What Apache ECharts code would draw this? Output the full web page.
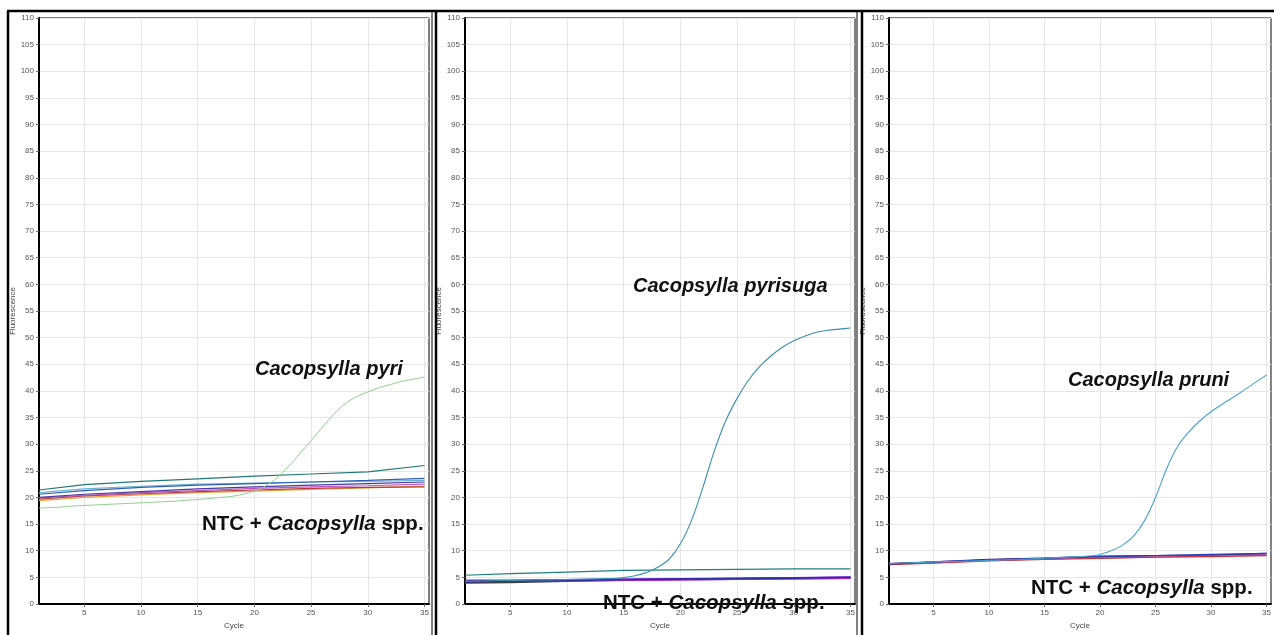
<!DOCTYPE html>
<html><head><meta charset="utf-8">
<script src="https://cdn.jsdelivr.net/npm/echarts@6/dist/echarts.min.js"></script>
<style>html,body{margin:0;padding:0;background:#fff}#c{width:1274px;height:635px}</style>
</head><body><div id="c"></div>
<script>
// ---------- data ----------
var cycles = [1,2,3,4,5,6,7,8,9,10,11,12,13,14,15,16,17,18,19,20,21,22,23,24,25,26,27,28,29,30,31,32,33,34,35];
var baseCycles = [1,5,10,15,20,25,30,35];
var xTicks = [5,10,15,20,25,30,35];

// Panel 1: Cacopsylla pyri
var p1Pyri = [18.0,18.1,18.2,18.4,18.5,18.6,18.7,18.8,18.9,19.0,19.1,19.2,19.3,19.5,19.6,19.8,20.0,20.2,20.6,21.2,22.2,23.7,25.8,28.2,30.7,33.2,35.6,37.6,38.9,39.8,40.6,41.2,41.8,42.2,42.6];
var p1Teal    = [21.4,22.4,23.0,23.5,24.0,24.4,24.8,26.0];
var p1Blue    = [20.6,21.3,21.9,22.3,22.6,22.9,23.2,23.6];
var p1Cyan    = [20.9,21.6,22.1,22.5,22.7,22.9,23.0,23.2];
var p1Purple  = [20.0,20.6,21.1,21.6,22.0,22.3,22.6,22.9];
var p1Magenta = [19.9,20.4,20.9,21.3,21.7,22.0,22.2,22.5];
var p1Red     = [19.7,20.3,20.7,21.1,21.4,21.7,21.9,22.0];
var p1Orange  = [19.4,20.0,20.5,20.9,21.2,21.5,21.8,22.1];

// Panel 2: Cacopsylla pyrisuga
var p2Pyrisuga = [4.3,4.3,4.35,4.4,4.4,4.45,4.5,4.5,4.55,4.6,4.65,4.7,4.75,4.8,4.95,5.3,5.9,6.9,8.4,11.3,15.8,22.0,28.8,34.4,38.6,42.0,44.6,46.6,48.2,49.4,50.3,51.0,51.4,51.6,51.8];
var p2Teal    = [5.4,5.7,6.0,6.3,6.4,6.5,6.6,6.6];
var p2Dark    = [4.0,4.1,4.3,4.5,4.6,4.7,4.8,4.9];
var p2Magenta = [4.3,4.3,4.4,4.5,4.6,4.7,4.8,4.9];
var p2Purple  = [4.4,4.4,4.5,4.6,4.7,4.8,4.9,5.0];
var p2Blue    = [4.2,4.3,4.4,4.6,4.7,4.8,4.9,5.0];

// Panel 3: Cacopsylla pruni
var p3Pruni = [7.6,7.7,7.75,7.8,7.9,7.95,8.0,8.05,8.1,8.2,8.25,8.3,8.4,8.5,8.6,8.7,8.8,8.9,9.0,9.3,10.0,11.0,12.7,15.6,20.0,25.4,29.6,32.3,34.4,36.1,37.5,38.8,40.2,41.6,43.0];
var p3Blue   = [7.5,7.9,8.3,8.6,8.9,9.1,9.3,9.5];
var p3Navy   = [7.6,7.9,8.4,8.6,9.0,9.1,9.2,9.5];
var p3Red    = [7.4,7.7,8.1,8.4,8.6,8.8,8.9,9.1];
var p3Orange = [7.5,7.8,8.2,8.5,8.7,8.8,9.0,9.2];
var p3Pink   = [7.6,7.8,8.3,8.5,8.8,9.0,9.1,9.3];

var labelTitles = ['Cacopsylla pyri','Cacopsylla pyrisuga','Cacopsylla pruni'];

// ---------- chart ----------
function pairs(xs, ys){ return xs.map(function(x,i){ return [x, ys[i]]; }); }
function line(idx, xs, ys, color, w, smooth){
  return { type:'line', xAxisIndex:idx, yAxisIndex:idx, data:pairs(xs,ys), showSymbol:false, symbol:'none',
    smooth: smooth ? 0.3 : false, lineStyle:{color:color, width:w||1}, itemStyle:{color:color}, silent:true, animation:false, z:3 };
}
var font = '"Liberation Sans", Arial, sans-serif';
var lefts = [39, 465, 889];
var grids = [], xAxes = [], yAxes = [];
lefts.forEach(function(l, i){
  grids.push({ left:l, top:18, width:390, height:594, show:true, borderColor:'#000', borderWidth:1, backgroundColor:'#fff' });
  xAxes.push({ type:'value', gridIndex:i, min:1, max:35.4, name:'Cycle', nameLocation:'middle', nameGap:18,
    nameTextStyle:{ color:'#444', fontSize:8, fontFamily:font },
    axisLine:{ show:true, onZero:false, lineStyle:{ color:'#000', width:2 } },
    axisTick:{ show:true, customValues:xTicks, length:3, lineStyle:{ color:'#666' } },
    axisLabel:{ customValues:xTicks, color:'#555', fontSize:8, fontFamily:font, margin:5 },
    splitLine:{ show:true, lineStyle:{ color:'#e6e6e6', width:1 } } });
  yAxes.push({ type:'value', gridIndex:i, min:0, max:110, interval:5, name:'Fluorescence', nameLocation:'middle', nameGap:22, nameRotate:90,
    nameTextStyle:{ color:'#444', fontSize:8, fontFamily:font },
    axisLine:{ show:true, onZero:false, lineStyle:{ color:'#000', width:2 } },
    axisTick:{ show:true, length:3, lineStyle:{ color:'#666' } },
    axisLabel:{ color:'#555', fontSize:8, fontFamily:font, margin:5 },
    splitLine:{ show:true, lineStyle:{ color:'#e6e6e6', width:1 } } });
});

var series = [
  line(0, baseCycles, p1Orange, '#e3a83a', 1.2),
  line(0, baseCycles, p1Red, '#b83a3a', 1.2),
  line(0, baseCycles, p1Magenta, '#c055c0', 1.2),
  line(0, baseCycles, p1Purple, '#4a3aa0', 1.2),
  line(0, baseCycles, p1Cyan, '#6ab4cc', 1.2),
  line(0, baseCycles, p1Blue, '#2f5fb8', 1.2),
  line(0, baseCycles, p1Teal, '#227878', 1.2),
  line(0, cycles, p1Pyri, '#8fd08f', 1, true),

  line(1, baseCycles, p2Teal, '#1f7f7f', 1.2),
  line(1, baseCycles, p2Dark, '#404040', 2),
  line(1, baseCycles, p2Magenta, '#e020d0', 2),
  line(1, baseCycles, p2Purple, '#6a20c8', 2),
  line(1, baseCycles, p2Blue, '#3030a8', 1.5),
  line(1, cycles, p2Pyrisuga, '#3a8fb0', 1.1, true),

  line(2, baseCycles, p3Orange, '#e08a40', 1.5),
  line(2, baseCycles, p3Red, '#c83030', 1.5),
  line(2, baseCycles, p3Pink, '#c060c0', 1.2),
  line(2, baseCycles, p3Navy, '#402080', 1.2),
  line(2, baseCycles, p3Blue, '#2040c0', 1.2),
  line(2, cycles, p3Pruni, '#4aa3d0', 1.1, true)
];

function italicLabel(text, x, y){
  return { type:'text', x:x, y:y, z:100, style:{ text:text, fill:'#111', font:'italic bold 20px "Liberation Sans", Arial, sans-serif', verticalAlign:'middle' } };
}
function ntcLabel(x, y){
  return { type:'text', x:x, y:y, z:100, style:{ text:'{a|NTC + }{b|Cacopsylla}{a| spp.}', verticalAlign:'middle',
    rich:{ a:{ fill:'#111', fontWeight:'bold', fontSize:20.5, fontFamily:font },
           b:{ fill:'#111', fontWeight:'bold', fontStyle:'italic', fontSize:20.5, fontFamily:font } } } };
}
function vline(x, w, y1){ return { type:'line', z:90, shape:{ x1:x, y1:y1||11, x2:x, y2:635 }, style:{ stroke:'#000', lineWidth:w } }; }

var graphics = [
  italicLabel(labelTitles[0], 255, 369),
  italicLabel(labelTitles[1], 633, 286),
  italicLabel(labelTitles[2], 1068, 380),
  ntcLabel(202, 524),
  ntcLabel(603, 603),
  ntcLabel(1031, 588),
  { type:'line', z:90, shape:{ x1:7, y1:11, x2:1274, y2:11 }, style:{ stroke:'#000', lineWidth:2.5 } },
  vline(8, 2.5), vline(436, 2.5), vline(862, 2.5),
  vline(432, 1), vline(857, 1)
];

var chart = echarts.init(document.getElementById('c'), null, { renderer:'canvas' });
chart.setOption({
  backgroundColor:'#fff', animation:false,
  grid:grids, xAxis:xAxes, yAxis:yAxes, series:series, graphic:graphics
});
</script></body></html>
